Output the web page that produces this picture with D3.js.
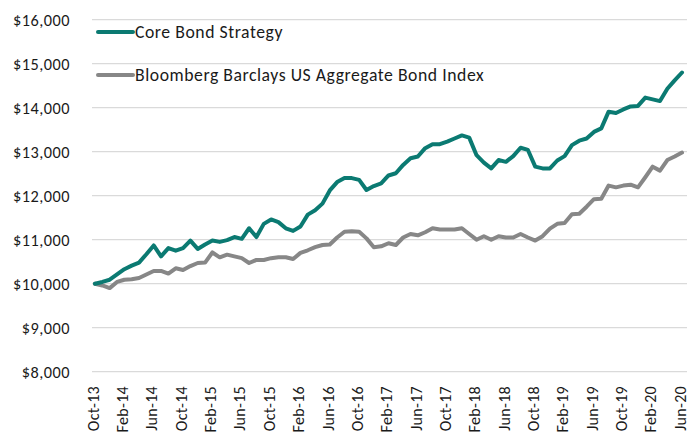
<!DOCTYPE html>
<html><head><meta charset="utf-8">
<script src="https://cdn.jsdelivr.net/npm/d3@7/dist/d3.min.js"></script>
<style>body{margin:0;background:#fff}svg{display:block}text{font-family:Carlito,Calibri,Lato,sans-serif;fill:#1a1a1a}</style>
</head><body>
<svg id="c" width="689" height="436"></svg>
<script>
const months = (() => {
  const names = ["Jan","Feb","Mar","Apr","May","Jun","Jul","Aug","Sep","Oct","Nov","Dec"];
  const out = [];
  for (let y = 2013, m = 9; y < 2020 || (y === 2020 && m <= 5); ) {
    out.push(names[m] + "-" + String(y).slice(2));
    m++; if (m === 12) { m = 0; y++; }
  }
  return out;
})();
const seriesNames = ["Core Bond Strategy", "Bloomberg Barclays US Aggregate Bond Index"];
const coreBond = [10000,10040,10090,10210,10330,10410,10480,10670,10870,10620,10810,10750,10810,10980,10790,10890,10980,10950,10990,11060,11020,11260,11060,11360,11460,11400,11260,11200,11300,11570,11670,11820,12120,12310,12400,12400,12360,12130,12220,12280,12460,12510,12700,12850,12890,13080,13170,13170,13230,13300,13370,13320,12920,12750,12620,12810,12770,12900,13090,13040,12660,12620,12620,12800,12900,13150,13250,13300,13450,13530,13910,13880,13960,14030,14040,14230,14190,14150,14430,14620,14800];
const aggIndex = [10000,9960,9900,10040,10090,10100,10130,10210,10290,10290,10230,10350,10310,10400,10470,10480,10710,10600,10660,10620,10580,10470,10540,10540,10580,10600,10600,10560,10700,10760,10830,10880,10890,11050,11180,11190,11180,11030,10830,10850,10920,10880,11050,11130,11100,11170,11260,11230,11230,11230,11260,11130,11000,11080,11000,11080,11050,11050,11130,11050,10980,11080,11250,11360,11380,11580,11590,11750,11920,11930,12230,12190,12230,12250,12190,12420,12660,12570,12810,12890,12980];
const yTicks = [8000,9000,10000,11000,12000,13000,14000,15000,16000];
const xTickLabels = months.filter((d,i) => i % 4 === 0);
const colors = ["#0b7a72", "#878787"];

const svg = d3.select("#c");
const x = d3.scalePoint().domain(months).range([95, 682]);
const y = d3.scaleLinear().domain([8000,16000]).range([371.7, 19.7]);

// gridlines
svg.append("g").selectAll("line").data(yTicks).join("line")
  .attr("x1", 92).attr("x2", 687)
  .attr("y1", d => y(d)).attr("y2", d => y(d))
  .attr("stroke", "#dadada").attr("stroke-width", 1.3);

// y axis labels
const yAxis = d3.axisLeft(y).tickValues(yTicks).tickSize(0).tickPadding(0)
  .tickFormat(d => "$" + d3.format(",")(d));
const gy = svg.append("g").attr("transform", "translate(70,0)").call(yAxis);
gy.select(".domain").remove();
gy.selectAll("text").attr("font-size", 16.3).attr("dy", "0.35em")
  .style("letter-spacing", "0.5px")
  .style("font-family", "Carlito,Calibri,Lato,sans-serif").attr("fill", "#1a1a1a");

// x axis labels
const xAxis = d3.axisBottom(x).tickValues(xTickLabels).tickSize(0).tickPadding(0);
const gx = svg.append("g").attr("transform", "translate(0,386)").call(xAxis);
gx.select(".domain").remove();
gx.selectAll("text").attr("font-size", 16)
  .style("font-family", "Carlito,Calibri,Lato,sans-serif").attr("fill", "#1a1a1a")
  .style("letter-spacing", "0.3px")
  .attr("text-anchor", "end").attr("transform", "rotate(-90)")
  .attr("x", 0).attr("y", 0).attr("dy", "0.2em");

// lines
const line = d3.line().x((d,i) => x(months[i])).y(d => y(d));
[aggIndex, coreBond].forEach((s) => {
  const k = s === coreBond ? 0 : 1;
  svg.append("path").datum(s).attr("d", line)
    .attr("fill", "none").attr("stroke", colors[k]).attr("stroke-width", 4)
    .attr("stroke-linejoin", "round").attr("stroke-linecap", "round");
});

// legend
const lg = svg.append("g");
seriesNames.forEach((n, k) => {
  const yy = 32 + k * 43;
  lg.append("line").attr("x1", 98).attr("x2", 133).attr("y1", yy).attr("y2", yy)
    .attr("stroke", colors[k]).attr("stroke-width", 4).attr("stroke-linecap", "round");
  lg.append("text").attr("x", 135).attr("y", yy).attr("dy", "0.35em")
    .attr("font-size", 17.7).style("letter-spacing", "0.55px").text(n);
});
</script>
</body></html>
